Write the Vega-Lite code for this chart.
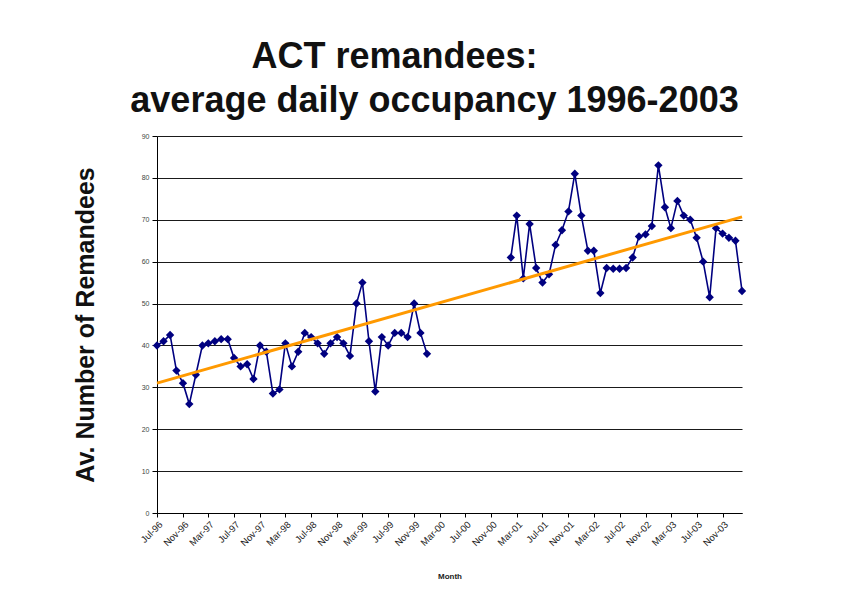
{
  "$schema": "https://vega.github.io/schema/vega-lite/v6.json",
  "width": 585,
  "height": 377,
  "autosize": {"type": "none"},
  "padding": {"left": 157, "top": 136, "right": 101, "bottom": 79},
  "background": "white",
  "config": {"view": {"stroke": null}, "font": "Liberation Sans"},
  "title": {
    "text": ["ACT remandees:\u00a0\u00a0\u00a0\u00a0\u00a0\u00a0\u00a0\u00a0\u200b", "average daily occupancy 1996-2003"],
    "fontSize": 36,
    "font": "Liberation Sans",
    "fontWeight": "bold",
    "color": "#111111",
    "lineHeight": 44,
    "anchor": "middle",
    "dx": -15,
    "offset": 12
  },
  "datasets": {
    "series": [
      {"month": "1996-07-01", "remandees": 40, "period": "a"},
      {"month": "1996-08-01", "remandees": 41, "period": "a"},
      {"month": "1996-09-01", "remandees": 42.5, "period": "a"},
      {"month": "1996-10-01", "remandees": 34, "period": "a"},
      {"month": "1996-11-01", "remandees": 31, "period": "a"},
      {"month": "1996-12-01", "remandees": 26, "period": "a"},
      {"month": "1997-01-01", "remandees": 33, "period": "a"},
      {"month": "1997-02-01", "remandees": 40, "period": "a"},
      {"month": "1997-03-01", "remandees": 40.5, "period": "a"},
      {"month": "1997-04-01", "remandees": 41, "period": "a"},
      {"month": "1997-05-01", "remandees": 41.5, "period": "a"},
      {"month": "1997-06-01", "remandees": 41.5, "period": "a"},
      {"month": "1997-07-01", "remandees": 37, "period": "a"},
      {"month": "1997-08-01", "remandees": 35, "period": "a"},
      {"month": "1997-09-01", "remandees": 35.5, "period": "a"},
      {"month": "1997-10-01", "remandees": 32, "period": "a"},
      {"month": "1997-11-01", "remandees": 40, "period": "a"},
      {"month": "1997-12-01", "remandees": 38.5, "period": "a"},
      {"month": "1998-01-01", "remandees": 28.5, "period": "a"},
      {"month": "1998-02-01", "remandees": 29.5, "period": "a"},
      {"month": "1998-03-01", "remandees": 40.5, "period": "a"},
      {"month": "1998-04-01", "remandees": 35, "period": "a"},
      {"month": "1998-05-01", "remandees": 38.5, "period": "a"},
      {"month": "1998-06-01", "remandees": 43, "period": "a"},
      {"month": "1998-07-01", "remandees": 42, "period": "a"},
      {"month": "1998-08-01", "remandees": 40.5, "period": "a"},
      {"month": "1998-09-01", "remandees": 38, "period": "a"},
      {"month": "1998-10-01", "remandees": 40.5, "period": "a"},
      {"month": "1998-11-01", "remandees": 42, "period": "a"},
      {"month": "1998-12-01", "remandees": 40.5, "period": "a"},
      {"month": "1999-01-01", "remandees": 37.5, "period": "a"},
      {"month": "1999-02-01", "remandees": 50, "period": "a"},
      {"month": "1999-03-01", "remandees": 55, "period": "a"},
      {"month": "1999-04-01", "remandees": 41, "period": "a"},
      {"month": "1999-05-01", "remandees": 29, "period": "a"},
      {"month": "1999-06-01", "remandees": 42, "period": "a"},
      {"month": "1999-07-01", "remandees": 40, "period": "a"},
      {"month": "1999-08-01", "remandees": 43, "period": "a"},
      {"month": "1999-09-01", "remandees": 43, "period": "a"},
      {"month": "1999-10-01", "remandees": 42, "period": "a"},
      {"month": "1999-11-01", "remandees": 50, "period": "a"},
      {"month": "1999-12-01", "remandees": 43, "period": "a"},
      {"month": "2000-01-01", "remandees": 38, "period": "a"},
      {"month": "2001-02-01", "remandees": 61, "period": "b"},
      {"month": "2001-03-01", "remandees": 71, "period": "b"},
      {"month": "2001-04-01", "remandees": 56, "period": "b"},
      {"month": "2001-05-01", "remandees": 69, "period": "b"},
      {"month": "2001-06-01", "remandees": 58.5, "period": "b"},
      {"month": "2001-07-01", "remandees": 55, "period": "b"},
      {"month": "2001-08-01", "remandees": 57, "period": "b"},
      {"month": "2001-09-01", "remandees": 64, "period": "b"},
      {"month": "2001-10-01", "remandees": 67.5, "period": "b"},
      {"month": "2001-11-01", "remandees": 72, "period": "b"},
      {"month": "2001-12-01", "remandees": 81, "period": "b"},
      {"month": "2002-01-01", "remandees": 71, "period": "b"},
      {"month": "2002-02-01", "remandees": 62.6, "period": "b"},
      {"month": "2002-03-01", "remandees": 62.6, "period": "b"},
      {"month": "2002-04-01", "remandees": 52.5, "period": "b"},
      {"month": "2002-05-01", "remandees": 58.5, "period": "b"},
      {"month": "2002-06-01", "remandees": 58.3, "period": "b"},
      {"month": "2002-07-01", "remandees": 58.3, "period": "b"},
      {"month": "2002-08-01", "remandees": 58.5, "period": "b"},
      {"month": "2002-09-01", "remandees": 61, "period": "b"},
      {"month": "2002-10-01", "remandees": 66, "period": "b"},
      {"month": "2002-11-01", "remandees": 66.5, "period": "b"},
      {"month": "2002-12-01", "remandees": 68.5, "period": "b"},
      {"month": "2003-01-01", "remandees": 83, "period": "b"},
      {"month": "2003-02-01", "remandees": 73, "period": "b"},
      {"month": "2003-03-01", "remandees": 68, "period": "b"},
      {"month": "2003-04-01", "remandees": 74.5, "period": "b"},
      {"month": "2003-05-01", "remandees": 71, "period": "b"},
      {"month": "2003-06-01", "remandees": 70, "period": "b"},
      {"month": "2003-07-01", "remandees": 65.7, "period": "b"},
      {"month": "2003-08-01", "remandees": 60, "period": "b"},
      {"month": "2003-09-01", "remandees": 51.5, "period": "b"},
      {"month": "2003-10-01", "remandees": 68, "period": "b"},
      {"month": "2003-11-01", "remandees": 66.7, "period": "b"},
      {"month": "2003-12-01", "remandees": 65.7, "period": "b"},
      {"month": "2004-01-01", "remandees": 65, "period": "b"},
      {"month": "2004-02-01", "remandees": 53, "period": "b"}
    ],
    "trend": [
      {"month": "1996-07-01", "remandees": 31, "period": "trend"},
      {"month": "2004-02-01", "remandees": 70.7, "period": "trend"}
    ]
  },
  "encoding": {
    "x": {
      "field": "month",
      "type": "temporal",
      "title": "Month",
      "scale": {
        "type": "utc",
        "domain": [
          {"year": 1996, "month": 7, "date": 1, "utc": true},
          {"year": 2004, "month": 2, "date": 1, "utc": true}
        ]
      },
      "axis": {
        "values": [
          {"year": 1996, "month": 7, "date": 1, "utc": true},
          {"year": 1996, "month": 11, "date": 1, "utc": true},
          {"year": 1997, "month": 3, "date": 1, "utc": true},
          {"year": 1997, "month": 7, "date": 1, "utc": true},
          {"year": 1997, "month": 11, "date": 1, "utc": true},
          {"year": 1998, "month": 3, "date": 1, "utc": true},
          {"year": 1998, "month": 7, "date": 1, "utc": true},
          {"year": 1998, "month": 11, "date": 1, "utc": true},
          {"year": 1999, "month": 3, "date": 1, "utc": true},
          {"year": 1999, "month": 7, "date": 1, "utc": true},
          {"year": 1999, "month": 11, "date": 1, "utc": true},
          {"year": 2000, "month": 3, "date": 1, "utc": true},
          {"year": 2000, "month": 7, "date": 1, "utc": true},
          {"year": 2000, "month": 11, "date": 1, "utc": true},
          {"year": 2001, "month": 3, "date": 1, "utc": true},
          {"year": 2001, "month": 7, "date": 1, "utc": true},
          {"year": 2001, "month": 11, "date": 1, "utc": true},
          {"year": 2002, "month": 3, "date": 1, "utc": true},
          {"year": 2002, "month": 7, "date": 1, "utc": true},
          {"year": 2002, "month": 11, "date": 1, "utc": true},
          {"year": 2003, "month": 3, "date": 1, "utc": true},
          {"year": 2003, "month": 7, "date": 1, "utc": true},
          {"year": 2003, "month": 11, "date": 1, "utc": true}
        ],
        "labelExpr": "utcFormat(datum.value, '%b-%y')",
        "labelAngle": -45,
        "labelFontSize": 9.5,
        "labelColor": "#222222",
        "labelPadding": 2,
        "labelOverlap": false,
        "labelFlush": false,
        "tickSize": 4,
        "tickColor": "#000000",
        "domainColor": "#000000",
        "grid": false,
        "titleFontSize": 8,
        "titleFontWeight": "bold",
        "titleColor": "#222222",
        "titlePadding": 25
      }
    },
    "y": {
      "field": "remandees",
      "type": "quantitative",
      "title": "Av. Number of Remandees",
      "scale": {"domain": [0, 90]},
      "axis": {
        "values": [0, 10, 20, 30, 40, 50, 60, 70, 80, 90],
        "grid": true,
        "gridColor": "#1a1a1a",
        "gridWidth": 1.2,
        "domainColor": "#000000",
        "tickColor": "#000000",
        "tickSize": 5,
        "labelFontSize": 7,
        "labelColor": "#444444",
        "labelPadding": 3,
        "titleFontSize": 25,
        "titleFontWeight": "bold",
        "titleColor": "#111111",
        "titlePadding": 43
      }
    },
    "detail": {"field": "period"}
  },
  "layer": [
    {
      "data": {"name": "series"},
      "mark": {
        "type": "line",
        "color": "#000080",
        "strokeWidth": 1.6,
        "point": {"shape": "diamond", "size": 70, "filled": true, "color": "#000080", "opacity": 1}
      }
    },
    {
      "data": {"name": "trend"},
      "mark": {"type": "line", "color": "#FF9900", "strokeWidth": 3}
    }
  ]
}
